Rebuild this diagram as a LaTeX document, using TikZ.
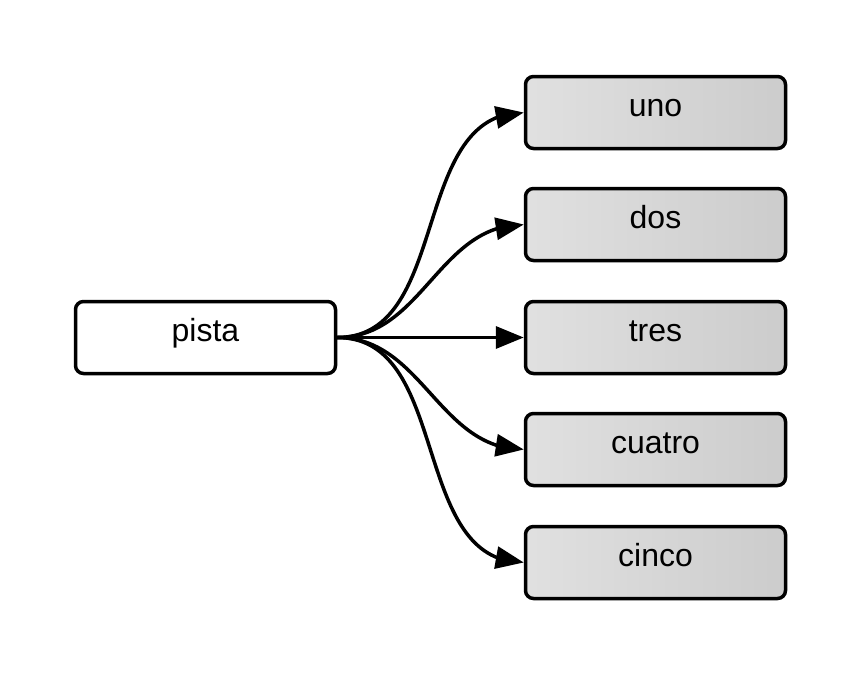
\documentclass[tikz,border=0pt]{standalone}
\usepackage{fontspec}
\setmainfont{Liberation Sans}
\usetikzlibrary{arrows.meta,bending}

\tikzset{
  srcbox/.style={draw, line width=1.75pt, rounded corners=4pt, fill=white,
    minimum width=130pt, minimum height=36pt, inner sep=0pt,
    text height=11pt, text depth=7.2pt,
    font=\fontsize{16}{19}\selectfont},
  dstbox/.style={srcbox, left color=black!12, right color=black!20},
  link/.style={line width=1.75pt, -{Triangle[length=14pt,width=11pt,flex]}}
}

\begin{document}
\begin{tikzpicture}[x=0.5pt, y=-0.5pt]
\useasboundingbox (0,0) rectangle (863,675);
\node[srcbox] (pista) at (205.5,337.5) {pista};
\node[dstbox] (uno) at (655.5,112.5) {uno};
\node[dstbox] (dos) at (655.5,224.5) {dos};
\node[dstbox] (tres) at (655.5,337.5) {tres};
\node[dstbox] (cuatro) at (655.5,449.5) {cuatro};
\node[dstbox] (cinco) at (655.5,562.5) {cinco};
\draw[link] (pista.east) to[out=0, in=180] (uno.west);
\draw[link] (pista.east) to[out=0, in=180] (dos.west);
\draw[link] (pista.east) -- (tres.west);
\draw[link] (pista.east) to[out=0, in=180] (cuatro.west);
\draw[link] (pista.east) to[out=0, in=180] (cinco.west);
\end{tikzpicture}
\end{document}
